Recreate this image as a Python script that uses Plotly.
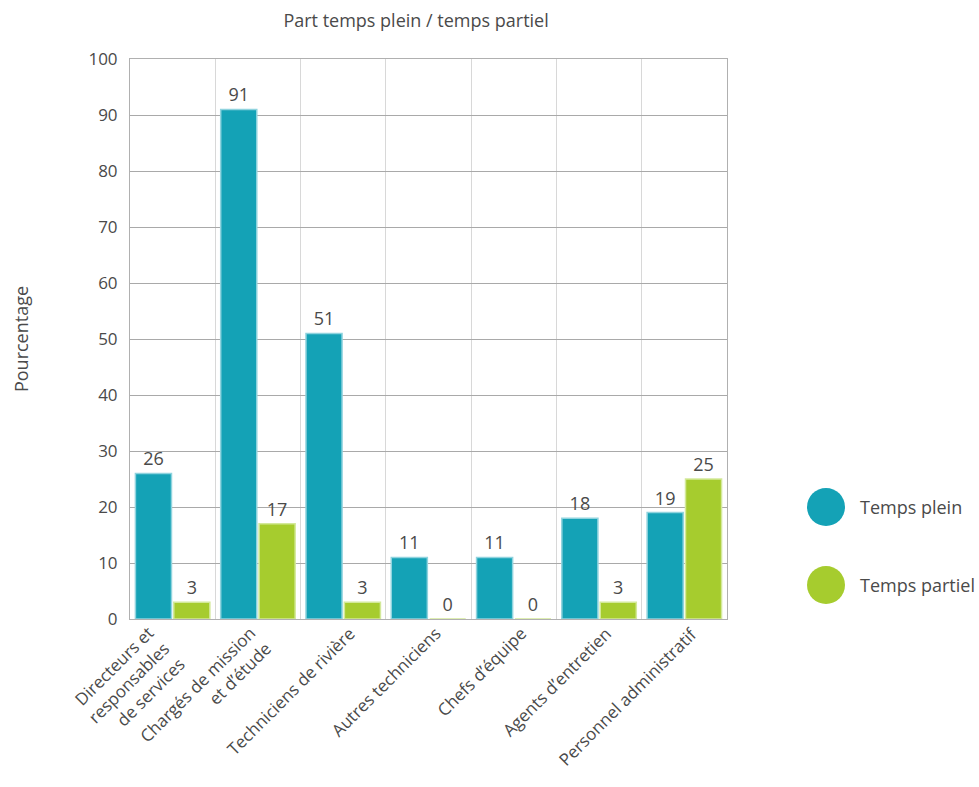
import plotly.graph_objects as go

# Category labels (line breaks as in the printed axis)
categories = [
    "Directeurs et<br>responsables<br>de services",
    "Chargés de mission<br>et d’étude",
    "Techniciens de rivière",
    "Autres techniciens",
    "Chefs d’équipe",
    "Agents d’entretien",
    "Personnel administratif",
]
temps_plein = [26, 91, 51, 11, 11, 18, 19]
temps_partiel = [3, 17, 3, 0, 0, 3, 25]
series_names = ["Temps plein", "Temps partiel"]
y_ticks = [0, 10, 20, 30, 40, 50, 60, 70, 80, 90, 100]

BLUE = "#14a2b6"
GREEN = "#a6cc2e"
TEXT = "#4a4a4a"
FONT = "Open Sans"

# Plot area in pixels (used to place the hand-drawn legend)
W, H = 979, 787
L, R, T, B = 130, 252, 59, 168
PW, PH = W - L - R, H - T - B

fig = go.Figure()
for name, vals, col, edge in [
    (series_names[0], temps_plein, BLUE, "#8fd3de"),
    (series_names[1], temps_partiel, GREEN, "#d3e99a"),
]:
    fig.add_trace(go.Bar(
        x=categories, y=vals, name=name,
        marker=dict(color=col, line=dict(color=edge, width=1.5)),
        text=[str(v) for v in vals], textposition="outside",
        textfont=dict(family=FONT, size=18, color=TEXT),
        cliponaxis=False, showlegend=False,
    ))

fig.update_layout(
    width=W, height=H,
    margin=dict(l=L, r=R, t=T, b=B),
    paper_bgcolor="white", plot_bgcolor="white",
    barmode="group", bargap=0.1, bargroupgap=0.06,
    font=dict(family=FONT, color=TEXT),
    title=dict(text="Part temps plein / temps partiel", x=0.425, xanchor="center",
               y=0.974, yanchor="middle",
               font=dict(family=FONT, size=18, color=TEXT)),
    xaxis=dict(
        type="category", range=[-0.5, len(categories) - 0.5],
        tickson="boundaries", showticklabels=False,
        showgrid=True, gridcolor="#d8d8d8", gridwidth=1,
        showline=True, linecolor="#b0b0b0", mirror=True, ticks="",
    ),
    yaxis=dict(
        range=[0, 100], tickvals=y_ticks, showgrid=True,
        gridcolor="#a9a9a9", gridwidth=1, zeroline=False,
        showline=True, linecolor="#b0b0b0", mirror=True,
        ticks="", ticklabelstandoff=8,
        tickfont=dict(family=FONT, size=17, color=TEXT),
        title=dict(text="Pourcentage", standoff=55,
                   font=dict(family=FONT, size=18, color=TEXT)),
    ),
)

# Slanted category labels hanging below the axis, right end near each group
for cat in categories:
    fig.add_annotation(
        x=cat, xref="x", y=0, yref="paper",
        xanchor="right", yanchor="top", align="right",
        textangle=-45, showarrow=False, text=cat,
        xshift=20, yshift=0,
        font=dict(family=FONT, size=17, color=TEXT),
    )

# Legend drawn as large round swatches next to the plot
legend_cy = [507, 585]
cx, rad = 826, 19
for name, col, cy in zip(series_names, [BLUE, GREEN], legend_cy):
    fig.add_shape(type="circle", xref="paper", yref="paper",
                  x0=(cx - rad - L) / PW, x1=(cx + rad - L) / PW,
                  y0=(H - B - cy - rad) / PH, y1=(H - B - cy + rad) / PH,
                  fillcolor=col, line=dict(width=0))
    fig.add_annotation(xref="paper", yref="paper",
                       x=(858 - L) / PW, y=(H - B - cy) / PH,
                       xanchor="left", yanchor="middle",
                       text=name, showarrow=False,
                       font=dict(family=FONT, size=18, color=TEXT))

fig.write_html("out.html")
